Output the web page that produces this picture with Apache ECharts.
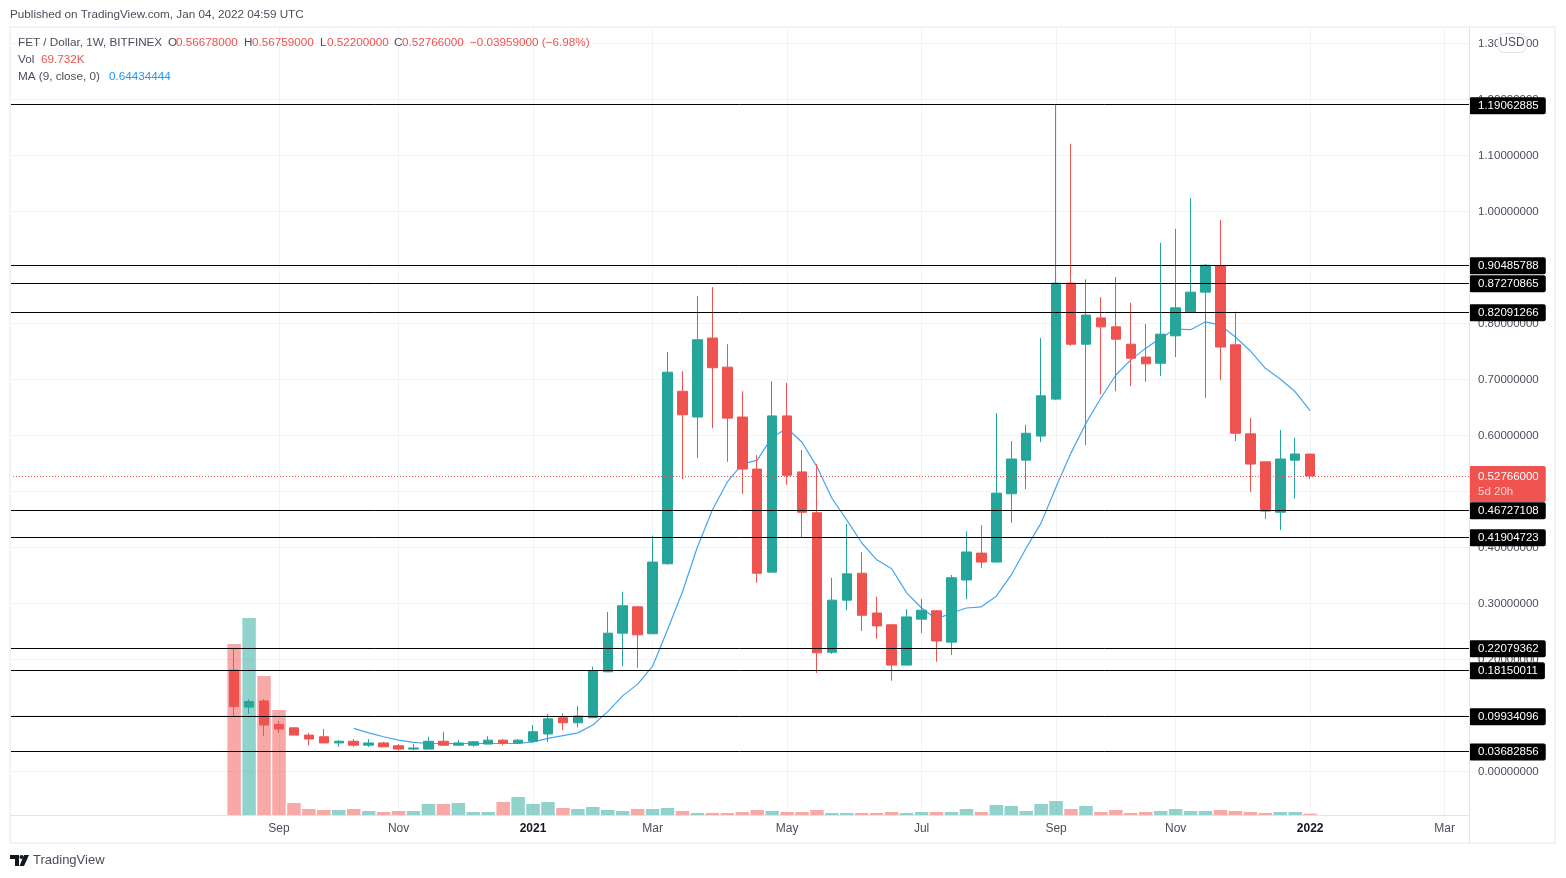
<!DOCTYPE html>
<html>
<head>
<meta charset="utf-8">
<title>FET / Dollar</title>
<script src="https://cdn.jsdelivr.net/npm/echarts@6/dist/echarts.min.js"></script>
<style>html,body{margin:0;padding:0;background:#fff}#c{width:1566px;height:878px}</style>
</head>
<body>
<div id="c"></div>
<script>
// Weekly bars, index 0 = week of 2020-08-17, index 72 = week of 2022-01-03
const opens = [.181,.115,.126,.084,.078,.065,.062,.051,.054,.047,.051,.046,.040,.040,.054,.047,.047,.049,.056,.051,.054,.067,.096,.087,.096,.178,.247,.294,.246,.371,.679,.633,.774,.722,.633,.540,.356,.635,.535,.462,.213,.306,.354,.283,.262,.190,.272,.287,.231,.342,.390,.374,.496,.556,.599,.665,.872,.763,.810,.794,.763,.740,.729,.778,.821,.856,.903,.762,.603,.553,.463,.556,.56678];
const closes = [.116,.125,.083,.076,.065,.058,.051,.054,.047,.051,.044,.040,.042,.054,.047,.051,.053,.056,.051,.056,.071,.094,.087,.099,.180,.247,.296,.244,.374,.713,.637,.771,.721,.631,.540,.354,.635,.529,.463,.212,.306,.353,.279,.260,.190,.276,.288,.233,.346,.392,.374,.497,.558,.604,.671,.872,.763,.815,.794,.772,.738,.728,.781,.828,.856,.904,.758,.604,.549,.465,.558,.567,.52766];
const lows = [.098,.103,.063,.069,.065,.047,.051,.044,.044,.044,.044,.037,.038,.040,.046,.047,.044,.049,.047,.049,.051,.053,.074,.079,.096,.178,.188,.185,.246,.369,.522,.560,.613,.553,.496,.337,.356,.512,.417,.176,.210,.288,.251,.237,.162,.190,.247,.196,.208,.308,.363,.373,.444,.504,.588,.663,.760,.583,.674,.679,.688,.696,.706,.740,.821,.667,.699,.590,.499,.451,.431,.487,.522];
const highs = [.221,.129,.129,.090,.079,.069,.076,.056,.058,.058,.053,.049,.049,.062,.071,.056,.054,.063,.058,.058,.083,.103,.104,.117,.187,.285,.321,.296,.421,.749,.715,.849,.865,.763,.679,.565,.697,.694,.574,.549,.346,.442,.392,.312,.262,.290,.308,.288,.351,.429,.440,.640,.590,.619,.774,1.19062885,1.121,.879,.847,.883,.837,.799,.944,.969,1.024,.906,.985,.821,.631,.553,.610,.596,.56759];
const volumes = [9063,10441,7367,5565,636,318,265,265,318,212,159,212,212,583,583,636,159,159,689,954,583,689,371,318,424,265,212,318,318,371,212,106,110,106,159,265,212,159,159,265,106,106,106,106,159,106,159,159,159,318,159,530,477,212,583,742,318,477,159,265,106,159,212,318,212,212,265,212,159,106,159,159,69.732];
const maValues = [null,null,null,null,null,null,null,null,.077,.069,.062,.056,.052,.050,.050,.050,.050,.050,.050,.050,.053,.059,.064,.069,.083,.107,.135,.156,.188,.253,.321,.401,.467,.517,.549,.556,.597,.613,.588,.544,.488,.449,.408,.378,.362,.319,.292,.272,.283,.292,.294,.313,.351,.399,.444,.508,.569,.622,.667,.708,.735,.756,.774,.790,.789,.803,.797,.776,.751,.720,.701,.678,.64434444];
const levels = [1.19062885,.90485788,.87270865,.82091266,.46727108,.41904723,.22079362,.18150011,.09934096,.03682856];
const lastPrice = .52766;
const countdown = '5d 20h';
const timeTickIndex = [3,11,20,28,37,46,55,63,72,81];
const timeTickLabels = ['Sep','Nov','2021','Mar','May','Jul','Sep','Nov','2022','Mar'];
const priceTicks = [0,.1,.2,.3,.4,.5,.6,.7,.8,.9,1,1.1,1.2,1.3];

const UP = '#26a69a', DOWN = '#ef5350';
const FONT = '"Liberation Sans", Arial, sans-serif';
const candleRows = opens.map((o, i) => [i, o, closes[i], lows[i], highs[i]]);
const volRows = volumes.map((v, i) => ({
  value: [i, v],
  itemStyle: { color: closes[i] >= opens[i] ? 'rgba(38,166,154,0.5)' : 'rgba(239,83,80,0.5)' }
}));
const maRows = maValues.map((v, i) => [i, v]);

const txt = (x, y, t, fill, extra) => ({
  type: 'text', x, y, z: 50,
  style: Object.assign({ text: t, fill, font: '11.7px ' + FONT, textVerticalAlign: 'middle' }, extra || {})
});
const DARK = '#4a4e5a';

const chart = echarts.init(document.getElementById('c'), null, { renderer: 'canvas', width: 1566, height: 878 });
chart.setOption({
  animation: false,
  backgroundColor: '#ffffff',
  grid: { left: 10, right: 97, top: 27, bottom: 63, containLabel: false },
  xAxis: {
    type: 'value', min: -15, max: 82.63, scale: true,
    axisLine: { show: false },
    axisTick: { show: false, customValues: timeTickIndex },
    axisLabel: {
      customValues: timeTickIndex, margin: 8, color: '#4a4e5a', fontFamily: FONT, fontSize: 12,
      formatter: v => {
        const s = timeTickLabels[timeTickIndex.indexOf(v)];
        return /^20/.test(s) ? '{b|' + s + '}' : s;
      },
      rich: { b: { fontWeight: 'bold', color: '#131722', fontFamily: FONT, fontSize: 12 } }
    },
    splitLine: { show: true, lineStyle: { color: '#f0f3fa', width: 1 } }
  },
  yAxis: [{
    type: 'value', position: 'right', min: -0.07768, max: 1.32946, scale: true,
    axisLine: { show: false },
    axisTick: { show: false, customValues: priceTicks },
    axisLabel: {
      customValues: priceTicks, margin: 9, color: '#4a4e5a', fontFamily: FONT, fontSize: 11.5,
      padding: [2, 0, 0, 0],
      formatter: v => v.toFixed(8)
    },
    splitLine: { show: true, lineStyle: { color: '#f0f3fa', width: 1 } }
  }, {
    type: 'value', min: 0, max: 41764, show: false, splitLine: { show: false }
  }],
  series: [
    { name: 'Volume', type: 'bar', yAxisIndex: 1, data: volRows, barWidth: 13.5, z: 1, silent: true, large: false },
    {
      name: 'Levels', type: 'line', data: [], z: 2, silent: true, clip: false, symbol: 'none',
      markLine: {
        silent: true, symbol: 'none', animation: false, clip: false, precision: 8,
        lineStyle: { color: '#000000', width: 1, type: 'solid' },
        label: {
          show: true, position: 'end', distance: 0, offset: [0, 1], color: '#ffffff', backgroundColor: '#000000',
          fontFamily: FONT, fontSize: 11.5, padding: [3, 7, 2, 9], borderRadius: 2,
          formatter: p => p.value.toFixed(8)
        },
        data: levels.map(v => ({ yAxis: v }))
      }
    },
    {
      name: 'MA (9, close, 0)', type: 'line', data: maRows, z: 3, symbol: 'none', silent: true,
      lineStyle: { color: '#42a5f5', width: 1.2 }, connectNulls: false
    },
    {
      name: 'FET / Dollar', type: 'candlestick', data: candleRows, z: 4, barWidth: 10, silent: true,
      itemStyle: { color: UP, color0: DOWN, borderColor: UP, borderColor0: DOWN, borderWidth: 1 }
    },
    {
      name: 'Last', type: 'line', data: [], z: 5, silent: true, clip: false, symbol: 'none',
      markLine: {
        silent: true, symbol: 'none', animation: false, clip: false, precision: 8,
        lineStyle: { color: DOWN, width: 1, type: [1, 2] },
        label: {
          show: true, position: 'end', distance: 0, offset: [0, 8],
          backgroundColor: DOWN, padding: [3, 7, 3, 9], borderRadius: 2,
          formatter: p => '{a|' + p.value.toFixed(8) + '}\n{b|' + countdown + '}',
          rich: {
            a: { color: '#ffffff', fontFamily: FONT, fontSize: 11.5, lineHeight: 15 },
            b: { color: '#fbd0cf', fontFamily: FONT, fontSize: 11.5, lineHeight: 15 }
          }
        },
        data: [{ yAxis: lastPrice }]
      }
    }
  ],
  graphic: { elements: [
    { type: 'rect', z: 40, shape: { x: 10, y: 27, width: 1545, height: 816 }, style: { fill: 'none', stroke: '#f0f3fa', lineWidth: 2 }, silent: true },
    { type: 'line', z: 40, shape: { x1: 1469.5, y1: 27, x2: 1469.5, y2: 843 }, style: { stroke: '#e0e3eb', lineWidth: 1 }, silent: true },
    { type: 'line', z: 40, shape: { x1: 10, y1: 815.5, x2: 1469, y2: 815.5 }, style: { stroke: '#e0e3eb', lineWidth: 1 }, silent: true },
    txt(10, 15, 'Published on TradingView.com, Jan 04, 2022 04:59 UTC', DARK),
    txt(18, 43, 'FET / Dollar, 1W, BITFINEX', DARK),
    txt(168, 43, 'O', DARK), txt(176, 43, '0.56678000', DOWN),
    txt(244, 43, 'H', DARK), txt(252, 43, '0.56759000', DOWN),
    txt(320, 43, 'L', DARK), txt(327, 43, '0.52200000', DOWN),
    txt(394, 43, 'C', DARK), txt(402, 43, '0.52766000', DOWN),
    txt(470, 43, '\u22120.03959000 (\u22126.98%)', DOWN),
    txt(18, 60, 'Vol', DARK), txt(41, 60, '69.732K', DOWN),
    txt(18, 77, 'MA (9, close, 0)', DARK), txt(109, 77, '0.64434444', '#2196f3'),
    { type: 'rect', z: 60, shape: { x: 1498, y: 33.5, width: 28, height: 19, r: 6 }, style: { fill: '#ffffff', stroke: '#e0e3eb', lineWidth: 1 }, silent: true },
    { type: 'text', z: 61, x: 1512, y: 43, style: { text: 'USD', fill: '#4a4e5a', font: '12px ' + FONT, textAlign: 'center', textVerticalAlign: 'middle' } },
    { type: 'polygon', z: 50, shape: { points: [[10,855],[19,855],[19,866],[15,866],[15,859],[10,859]] }, style: { fill: '#131722' }, silent: true },
    { type: 'circle', z: 50, shape: { cx: 21.5, cy: 857, r: 2 }, style: { fill: '#131722' }, silent: true },
    { type: 'polygon', z: 50, shape: { points: [[24,855],[29,855],[24,866],[19.5,866]] }, style: { fill: '#131722' }, silent: true },
    { type: 'text', z: 50, x: 33, y: 860.5, style: { text: 'TradingView', fill: '#4a4e5a', font: '13px ' + FONT, textVerticalAlign: 'middle' } }
  ] }
});
</script>
</body>
</html>
